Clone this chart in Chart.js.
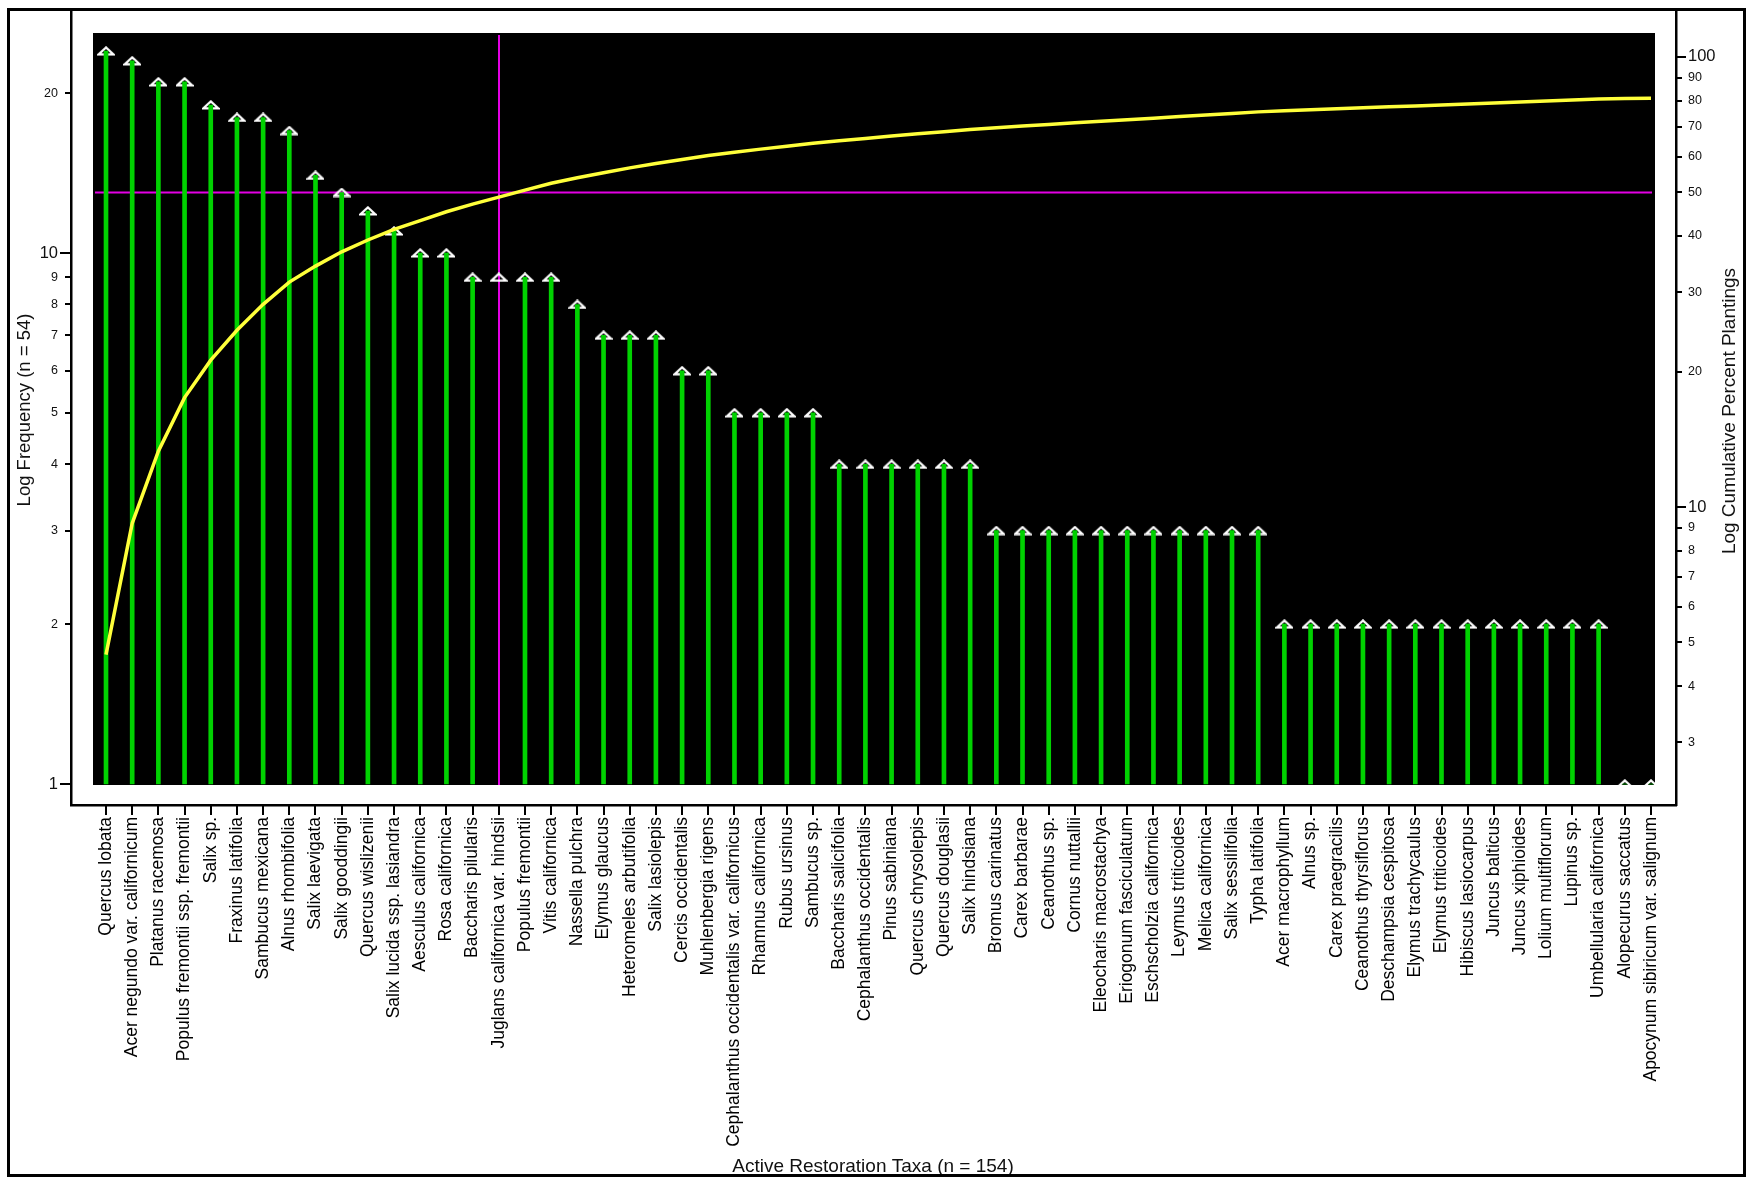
<!DOCTYPE html>
<html>
<head>
<meta charset="utf-8">
<script src="https://cdn.jsdelivr.net/npm/chart.js@4.4.1/dist/chart.umd.min.js"></script>
<style>
  html, body { margin: 0; padding: 0; background: #fff; }
  canvas { display: block; }
</style>
</head>
<body>
<canvas id="chart" width="1747" height="1182"></canvas>
<script>
// taxa, sorted by planting frequency
const taxa = [
  "Quercus lobata", "Acer negundo var. californicum", "Platanus racemosa",
  "Populus fremontii ssp. fremontii", "Salix sp.", "Fraxinus latifolia",
  "Sambucus mexicana", "Alnus rhombifolia", "Salix laevigata", "Salix gooddingii",
  "Quercus wislizenii", "Salix lucida ssp. lasiandra", "Aesculus californica",
  "Rosa californica", "Baccharis pilularis", "Juglans californica var. hindsii",
  "Populus fremontii", "Vitis californica", "Nassella pulchra", "Elymus glaucus",
  "Heteromeles arbutifolia", "Salix lasiolepis", "Cercis occidentalis",
  "Muhlenbergia rigens", "Cephalanthus occidentalis var. californicus",
  "Rhamnus californica", "Rubus ursinus", "Sambucus sp.", "Baccharis salicifolia",
  "Cephalanthus occidentalis", "Pinus sabiniana", "Quercus chrysolepis",
  "Quercus douglasii", "Salix hindsiana", "Bromus carinatus", "Carex barbarae",
  "Ceanothus sp.", "Cornus nuttallii", "Eleocharis macrostachya",
  "Eriogonum fasciculatum", "Eschscholzia californica", "Leymus triticoides",
  "Melica californica", "Salix sessilifolia", "Typha latifolia",
  "Acer macrophyllum", "Alnus sp.", "Carex praegracilis", "Ceanothus thyrsiflorus",
  "Deschampsia cespitosa", "Elymus trachycaulus", "Elymus triticoides",
  "Hibiscus lasiocarpus", "Juncus balticus", "Juncus xiphioides",
  "Lolium multiflorum", "Lupinus sp.", "Umbellularia californica",
  "Alopecurus saccatus", "Apocynum sibiricum var. salignum"
];

const frequency = [
  24, 23, 21, 21, 19, 18, 18, 17, 14, 13,
  12, 11, 10, 10, 9, 9, 9, 9, 8, 7,
  7, 7, 6, 6, 5, 5, 5, 5, 4, 4,
  4, 4, 4, 4, 3, 3, 3, 3, 3, 3,
  3, 3, 3, 3, 3, 2, 2, 2, 2, 2,
  2, 2, 2, 2, 2, 2, 2, 2, 1, 1
];

const cumulativePercent = [
  4.7, 9.2, 13.3, 17.5, 21.2, 24.7, 28.2, 31.6, 34.3, 36.9,
  39.2, 41.4, 43.3, 45.3, 47.1, 48.8, 50.6, 52.4, 53.9, 55.3,
  56.7, 58.0, 59.2, 60.4, 61.4, 62.4, 63.3, 64.3, 65.1, 65.9,
  66.7, 67.5, 68.2, 69.0, 69.6, 70.2, 70.8, 71.4, 72.0, 72.5,
  73.1, 73.7, 74.3, 74.9, 75.5, 75.9, 76.3, 76.7, 77.1, 77.5,
  77.8, 78.2, 78.6, 79.0, 79.4, 79.8, 80.2, 80.6, 80.8, 81.0
];

const frequencyTicks = [1, 2, 3, 4, 5, 6, 7, 8, 9, 10, 20];
const percentTicks = [3, 4, 5, 6, 7, 8, 9, 10, 20, 30, 40, 50, 60, 70, 80, 90, 100];
const majorTicks = [1, 10, 100];

// 50 % reference line and the taxon where it is reached
const cutoffPercent = 50;
const cutoffIndex = 15;

const FONT = "'Liberation Sans', Arial, sans-serif";
const GREEN = "#00d200";
const YELLOW = "#ffff3a";
const MAGENTA = "#e400e4";
const PLOT_INSET = { left: 22, right: 21, top: 22, bottom: 20 };

function triangleMarker() {
  const c = document.createElement("canvas");
  c.width = 18;
  c.height = 10;
  const g = c.getContext("2d");
  g.strokeStyle = "#fff";
  g.lineWidth = 2.2;
  g.beginPath();
  g.moveTo(1.5, 8.4);
  g.lineTo(9, 1.4);
  g.lineTo(16.5, 8.4);
  g.closePath();
  g.stroke();
  return c;
}

function tickFont(size) {
  return (ctx) => ({
    family: FONT,
    size: ctx.tick && majorTicks.includes(ctx.tick.value) ? size : 12.5,
  });
}

// keep the frame exactly where the axes are fitted
function noScalePadding(s) {
  s.paddingTop = 0;
  s.paddingBottom = 0;
  s.paddingLeft = 0;
  s.paddingRight = 0;
}

const framePlugin = {
  id: "frame",
  beforeDraw(chart) {
    const { ctx, chartArea: a } = chart;
    ctx.save();
    ctx.fillStyle = "#fff";
    ctx.fillRect(0, 0, chart.width, chart.height);
    ctx.fillStyle = "#000";
    ctx.fillRect(
      a.left + PLOT_INSET.left,
      a.top + PLOT_INSET.top,
      a.width - PLOT_INSET.left - PLOT_INSET.right,
      a.height - PLOT_INSET.top - PLOT_INSET.bottom
    );
    ctx.restore();
  },
  beforeDatasetsDraw(chart) {
    const { ctx, chartArea: a, scales } = chart;
    const y = Math.round(scales.y2.getPixelForValue(cutoffPercent)) + 0.5;
    const x = Math.round(scales.x.getPixelForValue(cutoffIndex));
    ctx.save();
    ctx.strokeStyle = MAGENTA;
    ctx.lineWidth = 2;
    ctx.beginPath();
    ctx.moveTo(a.left + PLOT_INSET.left + 2, y);
    ctx.lineTo(a.right - PLOT_INSET.right - 3, y);
    ctx.moveTo(x, a.top + PLOT_INSET.top + 2);
    ctx.lineTo(x, a.bottom - PLOT_INSET.bottom);
    ctx.stroke();
    ctx.restore();
  },
  afterDraw(chart) {
    const { ctx, chartArea: a, scales } = chart;
    ctx.save();
    ctx.strokeStyle = "#000";
    ctx.lineWidth = 2;
    ctx.beginPath();
    scales.x.ticks.forEach((t) => {
      const x = Math.round(scales.x.getPixelForValue(t.value));
      ctx.moveTo(x, a.bottom);
      ctx.lineTo(x, a.bottom + 10);
    });
    scales.y.ticks.forEach((t) => {
      const y = Math.round(scales.y.getPixelForValue(t.value));
      const len = majorTicks.includes(t.value) ? 11 : 6;
      ctx.moveTo(a.left, y);
      ctx.lineTo(a.left - len, y);
    });
    scales.y2.ticks.forEach((t) => {
      const y = Math.round(scales.y2.getPixelForValue(t.value));
      const len = majorTicks.includes(t.value) ? 10 : 6;
      ctx.moveTo(a.right, y);
      ctx.lineTo(a.right + len, y);
    });
    ctx.stroke();

    // axis titles
    ctx.fillStyle = "#111";
    ctx.font = "19px " + FONT;
    ctx.textAlign = "center";
    ctx.textBaseline = "middle";
    ctx.fillText("Active Restoration Taxa (n = 154)", 873, 1167);
    ctx.save();
    ctx.translate(25, (a.top + a.bottom) / 2 + 2);
    ctx.rotate(-Math.PI / 2);
    ctx.font = "18.5px " + FONT;
    ctx.fillText("Log Frequency (n = 54)", 0, 0);
    ctx.restore();
    ctx.save();
    ctx.translate(1730, (a.top + a.bottom) / 2 + 3);
    ctx.rotate(-Math.PI / 2);
    ctx.fillText("Log Cumulative Percent Plantings", 0, 0);
    ctx.restore();

    // outer frame
    ctx.lineWidth = 3;
    ctx.strokeStyle = "#000";
    ctx.strokeRect(8.5, 9.5, 1736, 1166);
    ctx.restore();
  },
};

new Chart(document.getElementById("chart"), {
  type: "line",
  data: {
    datasets: [
      {
        type: "line",
        label: "Cumulative percent",
        data: cumulativePercent.map((v, i) => ({ x: i, y: v })),
        yAxisID: "y2",
        borderColor: YELLOW,
        borderWidth: 3.5,
        pointRadius: 0,
        tension: 0,
        order: 0,
      },
      {
        type: "bar",
        label: "Frequency",
        data: frequency.map((v, i) => ({ x: i, y: [1, v] })),
        yAxisID: "y",
        barThickness: 4,
        backgroundColor: (ctx) => (ctx.dataIndex === cutoffIndex ? "rgba(0,0,0,0)" : GREEN),
        borderWidth: 0,
        order: 1,
      },
      {
        type: "line",
        label: "Frequency markers",
        data: frequency.map((v, i) => ({ x: i, y: v })),
        yAxisID: "y",
        showLine: false,
        pointStyle: triangleMarker(),
        pointRadius: 9,
        order: 2,
      },
    ],
  },
  options: {
    responsive: false,
    animation: false,
    devicePixelRatio: 1,
    layout: { autoPadding: false, padding: { top: 11, left: 0, right: 0, bottom: 0 } },
    plugins: { legend: { display: false }, tooltip: { enabled: false } },
    scales: {
      x: {
        type: "linear",
        offset: false,
        min: -1.337,
        max: 59.955,
        afterBuildTicks: (s) => { s.ticks = taxa.map((_, i) => ({ value: i })); },
        afterFit: (s) => { s.height = 377; noScalePadding(s); },
        grid: { display: false, drawTicks: false },
        border: { display: true, color: "#000", width: 2.5 },
        ticks: {
          autoSkip: false,
          minRotation: 90,
          maxRotation: 90,
          padding: 12,
          color: "#000",
          font: { family: FONT, size: 17.5 },
          callback: (v) => taxa[v] ?? "",
        },
      },
      y: {
        type: "logarithmic",
        position: "left",
        min: 0.9131,
        max: 28.56,
        afterBuildTicks: (s) => { s.ticks = frequencyTicks.map((v) => ({ value: v })); },
        afterFit: (s) => { s.width = 71; noScalePadding(s); },
        grid: { display: false, drawTicks: false },
        border: { display: true, color: "#000", width: 2.5 },
        ticks: {
          padding: 13,
          color: "#111",
          font: tickFont(16.5),
          callback: (v) => String(v),
        },
      },
      y2: {
        type: "logarithmic",
        position: "right",
        min: 2.177,
        max: 126.5,
        afterBuildTicks: (s) => { s.ticks = percentTicks.map((v) => ({ value: v })); },
        afterFit: (s) => { s.width = 71; noScalePadding(s); },
        grid: { display: false, drawTicks: false },
        border: { display: true, color: "#000", width: 2.5 },
        ticks: {
          padding: 12,
          color: "#111",
          font: tickFont(16.5),
          callback: (v) => String(v),
        },
      },
    },
  },
  plugins: [framePlugin],
});
</script>
</body>
</html>
